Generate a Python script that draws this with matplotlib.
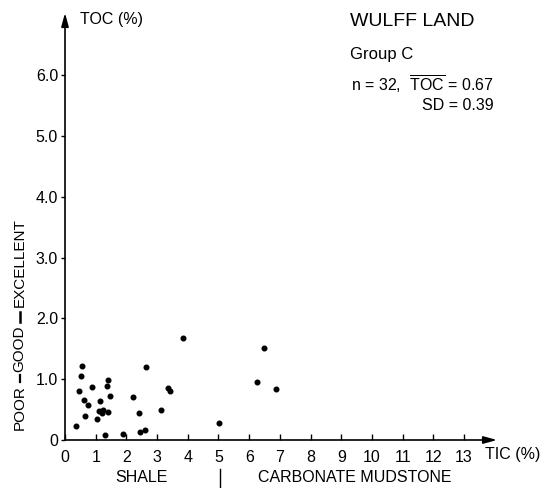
import matplotlib
matplotlib.use("Agg")
import matplotlib.pyplot as plt

plt.rcParams['font.family'] = ['Liberation Sans', 'DejaVu Sans']
plt.rcParams['mathtext.fontset'] = 'custom'
plt.rcParams['mathtext.rm'] = 'Liberation Sans'
plt.rcParams['mathtext.it'] = 'Liberation Sans'

# Data (TIC %, TOC %), n = 32
tic = [0.36, 0.54, 0.52, 0.45, 0.61, 0.74, 0.64, 0.87, 1.03, 1.15, 1.10,
       1.24, 1.21, 1.36, 1.40, 1.46, 1.41, 1.29, 1.88, 2.23, 2.42,
       2.45, 2.60, 2.64, 3.12, 3.37, 3.42, 3.84, 5.01, 6.24, 6.48, 6.88]
toc = [0.23, 1.21, 1.06, 0.80, 0.66, 0.58, 0.40, 0.87, 0.34, 0.64, 0.48,
       0.50, 0.44, 0.89, 0.99, 0.72, 0.46, 0.08, 0.10, 0.70, 0.45,
       0.13, 0.16, 1.20, 0.49, 0.86, 0.81, 1.68, 0.28, 0.95, 1.52, 0.84]

xticks = list(range(0, 14))
yticks = [0, 1, 2, 3, 4, 5, 6]
yticklabels = ['0', '1.0', '2.0', '3.0', '4.0', '5.0', '6.0']

W, H = 550, 488
fig = plt.figure(figsize=(5.5, 4.88), dpi=100)
x0, y0 = 65, 440
xend, ytop = 497, 13
ux = 30.7
uy = 60.8
xmax = (xend - x0) / ux
ymax = (y0 - ytop) / uy
ax = fig.add_axes([x0 / W, (H - y0) / H, (xend - x0) / W, (y0 - ytop) / H])
ax.set_xlim(0, xmax)
ax.set_ylim(0, ymax)
for s in ax.spines.values():
    s.set_visible(False)

ax.scatter(tic, toc, s=11, color='black', zorder=3, clip_on=False)

# axes with arrows
ax.annotate('', xy=(xmax, 0), xytext=(0, 0),
            arrowprops=dict(arrowstyle='-|>,head_length=0.8,head_width=0.22',
                            color='black', lw=1.2, shrinkA=0, shrinkB=0))
ax.annotate('', xy=(0, ymax), xytext=(0, 0),
            arrowprops=dict(arrowstyle='-|>,head_length=0.8,head_width=0.22',
                            color='black', lw=1.2, shrinkA=0, shrinkB=0))

fs = 11.5
ax.set_xticks(xticks)
ax.set_xticklabels([str(v) for v in xticks])
ax.set_yticks(yticks)
ax.set_yticklabels(yticklabels)
ax.tick_params(axis='x', direction='in', length=4, width=1, labelsize=fs, pad=7)
ax.tick_params(axis='y', direction='out', length=3, width=1, labelsize=fs, pad=2)

# axis labels
ax.text((485 - x0) / ux, -0.24, 'TIC (%)', fontsize=fs, ha='left', va='center', clip_on=False)
ax.text(0.5, ymax - 0.1, 'TOC (%)', fontsize=fs, ha='left', va='center')
ax.text(2.5, -0.62, 'SHALE', fontsize=fs, ha='center', va='center', clip_on=False)
ax.text(9.45, -0.62, 'CARBONATE MUDSTONE', fontsize=fs, ha='center', va='center', clip_on=False)
ax.plot([5.05, 5.05], [-0.48, -0.78], color='black', lw=1, clip_on=False)

# source-rock quality scale along the y axis
lx = (19.5 - x0) / ux
vfs = 11
ax.text(lx, 0.16, 'POOR', fontsize=vfs, rotation=90, ha='center', va='bottom', clip_on=False)
ax.text(lx, 1.12, 'GOOD', fontsize=vfs, rotation=90, ha='center', va='bottom', clip_on=False)
ax.text(lx, 2.19, 'EXCELLENT', fontsize=vfs, rotation=90, ha='center', va='bottom', clip_on=False)
ax.plot([lx, lx], [0.95, 1.07], color='black', lw=1.6, clip_on=False)
ax.plot([lx, lx], [1.94, 2.11], color='black', lw=1.8, clip_on=False)

# annotations
fig.text(350 / W, 1 - 22 / H, 'WULFF LAND', fontsize=14, ha='left', va='center')
fig.text(350 / W, 1 - 55 / H, 'Group C', fontsize=12, ha='left', va='center')
fig.text(494 / W, 1 - 84 / H, r'n = 32,  $\overline{\mathrm{TOC}}$ = 0.67', fontsize=fs,
         ha='right', va='center')
fig.text(494 / W, 1 - 106 / H, 'SD = 0.39', fontsize=fs, ha='right', va='center')

fig.savefig('out.png', dpi=100)
